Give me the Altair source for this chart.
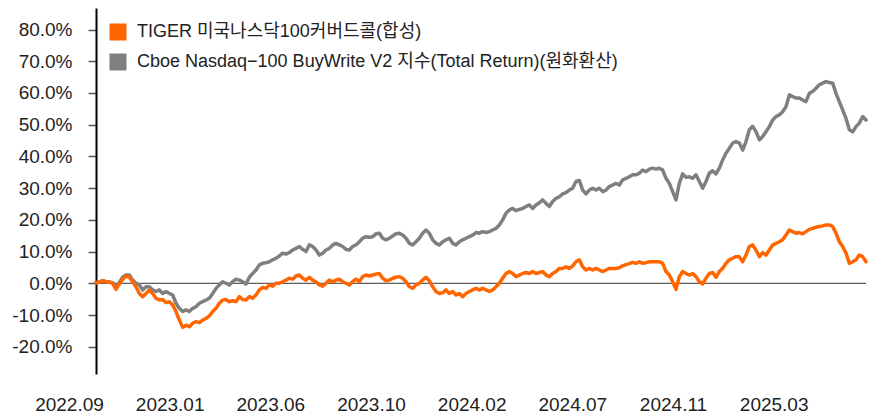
import json
import altair as alt
import pandas as pd

# Series names
S_TIGER = "TIGER 미국나스닥100커버드콜(합성)"
S_CBOE = "Cboe Nasdaq−100 BuyWrite V2 지수(Total Return)(원화환산)"

# X-axis tick labels (every ~30 samples, first one a little before the first sample)
date_labels = ["2022.09", "2023.01", "2023.06", "2023.10", "2024.02", "2024.07", "2024.11", "2025.03"]
label_step = 30.2
label_start = -8.1

tiger = [
    0.2, 0.4, 0.8, 0.5, 0.4, 0.0, -1.9, -0.2, 1.3, 2.3, 1.9, 0.5, -1.1, -3.2, -4.2, -3.2, -2.1, -3.2, -4.7, -5.3,
    -5.1, -6.1, -5.8, -6.8, -8.9, -11.6, -13.9, -13.2, -13.7, -12.6, -12.1, -12.4, -11.6, -11.1, -10.3, -8.9, -7.9,
    -6.3, -5.3, -5.1, -5.8, -5.5,
    -5.8, -4.2, -5.1, -5.3, -4.2, -4.7, -3.7, -2.1, -1.3, -1.6, -0.5, -0.9, 0.0, 0.0, 0.5, 1.0, 1.6, 1.3, 2.3, 2.6,
    1.6, 1.0, 1.9, 1.0, 0.5, -0.5, -0.9, 0.0, 1.0, 0.5, 1.0, 1.3, 0.5, 0.0, -0.5, 0.5, 1.3, 0.5, 2.1, 2.6,
    2.3, 2.6, 2.9, 3.1, 1.6, 0.8, 1.0, 1.6, 1.9, 2.1, 1.6, 0.5, -1.1, -1.6, -0.5, 0.0, 1.0, 1.9, 0.8, -1.1, -2.6,
    -3.2, -3.0, -2.1, -3.2, -2.6, -3.7, -3.2, -4.2, -3.2, -2.6, -2.1, -1.6, -2.1, -1.6, -2.1, -2.6, -2.1, -1.1, 0.0, 1.6,
    3.1, 3.7, 3.1, 2.1, 2.6, 3.1, 3.4, 3.1, 3.7, 3.1, 3.4, 3.7, 2.6, 2.1, 3.1, 3.7, 4.7, 4.7, 5.2, 4.7, 5.5, 6.8, 7.4,
    5.2, 4.2, 4.7, 4.2, 4.7, 4.2, 3.7, 4.2, 4.7, 4.7, 4.7, 4.9, 5.5, 5.9, 6.2, 6.6,
    6.3, 6.8, 6.3, 6.5, 6.8, 6.8, 6.8, 6.8, 6.3, 3.7, 2.6, 0.5, -1.9, 2.1, 3.7, 3.1, 2.6, 3.1, 2.1, 0.5, -0.2, 1.6,
    3.1, 3.4, 1.9, 3.7, 4.7, 6.3, 7.4, 7.9, 8.4, 8.4, 6.8, 8.9, 11.6, 12.1, 10.5, 8.4, 9.7,
    8.9, 10.5, 12.1, 12.6, 13.1, 13.7, 15.2, 16.8, 16.3, 15.8, 16.0, 15.6, 16.3, 17.0, 17.3, 17.7, 17.9, 18.1, 18.4,
    18.4, 17.9, 15.8, 13.1, 11.6, 9.5, 6.3, 6.8, 7.4, 8.9, 8.4, 6.8,
]

cboe = [
    0.2, 0.4, 0.8, 0.5, 0.4, 0.2, -1.1, 0.2, 1.9, 2.6, 2.6, 1.0, 0.0, -0.5, -2.1, -1.1, -1.1, -2.1, -2.6, -2.1,
    -3.2, -2.6, -3.2, -3.7, -6.3, -7.9, -8.9, -8.4, -8.9, -7.9, -7.4, -6.3, -5.8, -5.3, -4.7, -3.2, -1.6, -0.5, 0.5,
    0.0, -0.5, 0.5,
    1.3, 1.0, 0.5, -0.2, 1.9, 3.1, 4.2, 5.8, 6.3, 6.5, 6.8, 7.4, 7.9, 8.6, 9.5, 9.2, 9.7, 10.5, 11.0, 11.6, 10.7,
    10.0, 12.1, 11.6, 10.5, 8.9, 9.5, 10.5, 11.0, 12.1, 12.6, 12.1, 11.6, 10.7, 10.5, 11.6, 12.1, 13.1, 14.2, 14.7,
    14.5, 14.7, 15.6, 15.8, 14.2, 13.7, 14.2, 14.9, 15.6, 15.8, 15.2, 14.2, 12.6, 12.1, 13.1, 14.2, 15.8, 16.8, 15.8,
    13.7, 12.6, 12.1, 13.1, 13.7, 14.2, 12.6, 12.1, 13.1, 13.7, 14.2, 14.7, 15.2, 16.0, 15.8, 16.3, 16.0, 16.3, 16.8,
    17.3, 18.4, 20.0,
    22.1, 23.1, 23.6, 22.9, 23.3, 23.6, 24.2, 24.7, 23.6, 24.7, 25.4, 26.3, 25.2, 24.2, 25.8, 26.8, 27.3, 28.2, 28.6,
    29.4, 30.0, 32.1, 32.4, 29.4, 28.2, 29.4, 30.0, 29.4, 30.0, 28.9, 29.4, 30.5, 31.0, 31.5, 31.0, 32.6, 33.1, 33.6, 34.2,
    34.2, 34.7, 35.7, 35.2, 36.0, 36.3, 36.0, 36.3, 35.7, 33.1, 31.5, 28.9, 26.3, 31.5, 34.5, 33.4, 33.6, 33.1, 34.2,
    32.1, 30.0, 32.1, 34.7, 35.5, 34.5, 36.3, 38.9, 41.0, 42.6, 44.2, 44.7, 44.2, 42.0, 44.7, 48.4, 49.5, 47.8, 45.2, 46.3,
    47.8, 49.4, 51.5, 52.6, 53.1, 54.1, 55.7, 59.4, 58.9, 58.4, 58.4, 57.8, 57.3, 59.9, 60.5, 61.5, 62.6, 63.1, 63.6,
    63.3, 63.1, 59.9, 57.3, 54.7, 52.0, 48.4, 47.8, 49.4, 50.5, 52.6, 51.5,
]

y_ticks = [-20, -10, 0, 10, 20, 30, 40, 50, 60, 70, 80]

n = len(tiger)
df = pd.DataFrame({
    "t": list(range(n)) * 2,
    "value": tiger + cboe,
    "series": [S_TIGER] * n + [S_CBOE] * n,
})

FONT = "Liberation Sans, Noto Sans CJK KR"
ORANGE = "#FF6600"
GRAY = "#7F7F7F"
TEXT = "#222222"

x_scale = alt.Scale(domain=[label_start, n - 1], nice=False, zero=False)
x_enc = alt.X(
    "t:Q",
    scale=x_scale,
    axis=alt.Axis(
        values=[round(label_start + label_step * k, 2) for k in range(len(date_labels))],
        tickCount=20,
        labelExpr=json.dumps(date_labels) + "[round((datum.value - (%s)) / %s)]" % (label_start, label_step),
        domain=False, ticks=False, grid=False, title=None,
        labelPadding=21, labelFlush=False, labelOverlap=False,
        labelFont=FONT, labelFontSize=19, labelColor=TEXT,
    ),
)
y_enc = alt.Y(
    "value:Q",
    scale=alt.Scale(domain=[-28.6, 86.8], nice=False, zero=False),
    axis=alt.Axis(
        values=y_ticks, tickCount=20, offset=-27,
        labelExpr="(datum.value < 0 ? '-' : '') + format(abs(datum.value), '.1f') + '%'",
        grid=False, title=None, labelOverlap=False,
        domainColor="#000000", domainWidth=2,
        tickColor="#555555", tickSize=8, tickWidth=1.5,
        labelPadding=16, labelFont=FONT, labelFontSize=19, labelColor=TEXT,
    ),
)

# zero reference line spanning the data range
zero = alt.Chart(pd.DataFrame({"t0": [0], "t1": [n - 1], "value": [0]})).mark_rule(
    color="#333333", strokeWidth=1
).encode(x=alt.X("t0:Q", scale=x_scale), x2="t1", y="value:Q")

base = alt.Chart(df)
gray_line = base.transform_filter(alt.datum.series == S_CBOE).mark_line(
    color=GRAY, strokeWidth=3.5, strokeJoin="round", strokeCap="round"
).encode(x=x_enc, y=y_enc)
orange_line = base.transform_filter(alt.datum.series == S_TIGER).mark_line(
    color=ORANGE, strokeWidth=3.5, strokeJoin="round", strokeCap="round"
).encode(x="t:Q", y="value:Q")

# legend carrier (no rows drawn) -> filled square swatches in the legend
legend_layer = base.transform_filter("false").mark_square(filled=True, strokeWidth=0).encode(
    x="t:Q", y="value:Q",
    fill=alt.Fill(
        "series:N",
        scale=alt.Scale(domain=[S_TIGER, S_CBOE], range=[ORANGE, GRAY]),
        legend=alt.Legend(
            orient="none", legendX=40, legendY=15, title=None,
            symbolType="square", symbolSize=289, symbolStrokeWidth=0, symbolOpacity=1,
            labelFont=FONT, labelFontSize=18, labelColor=TEXT,
            labelOffset=10, rowPadding=12, labelLimit=0, padding=0,
        ),
    ),
)

chart = alt.layer(zero, gray_line, orange_line, legend_layer).properties(
    width=797, height=366,
    padding={"left": 61, "top": 0, "right": 5, "bottom": 39},
    autosize=alt.AutoSizeParams(type="none"),
).configure(background="white", view=alt.ViewConfig(strokeWidth=0))

chart.save("out.html", embed_options={"renderer": "svg", "actions": False})
